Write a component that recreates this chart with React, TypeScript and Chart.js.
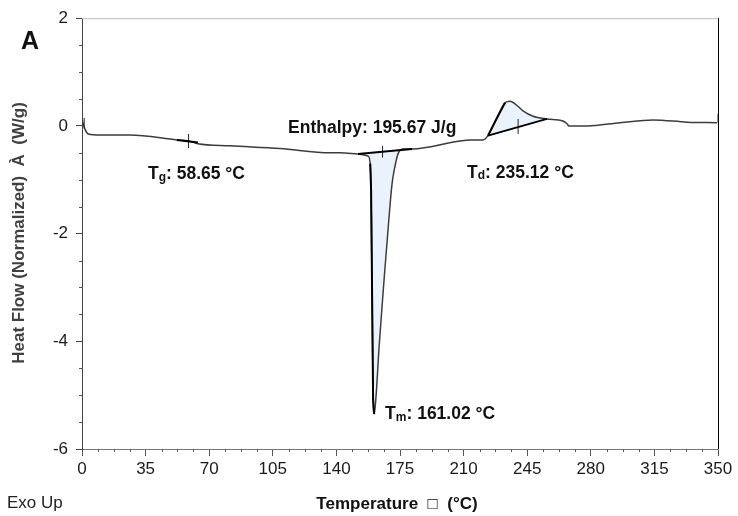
import React, { useEffect, useRef } from "react";
import { Chart, registerables } from "chart.js";
Chart.register(...registerables);

// ---- data ----
const curveTemp = [0, 1.5, 3.5, 10, 26.4, 52.3, 58.9, 63.8, 81.5, 109, 136.6, 142, 151.9, 157.4, 158.6, 159.1, 160.2, 160.8, 161.8, 163.5, 166.2, 168.6, 170.6, 172.3, 173.9, 176.7, 181.6, 208, 213.5, 220.7, 223.4, 228.4, 232.8, 235.6, 238.3, 242.7, 248.2, 255.9, 264.7, 266.9, 268, 277.9, 296.1, 314.3, 333, 349.5];
const curveHeatFlow = [0.12, -0.05, -0.15, -0.17, -0.17, -0.26, -0.28, -0.33, -0.37, -0.42, -0.5, -0.5, -0.52, -0.56, -0.7, -1.2, -5.08, -5.35, -5.03, -4.1, -2.87, -1.85, -1.08, -0.74, -0.52, -0.43, -0.43, -0.28, -0.26, -0.26, -0.18, 0.15, 0.43, 0.46, 0.41, 0.28, 0.18, 0.13, 0.09, 0.04, 0.0, 0.0, 0.06, 0.11, 0.07, 0.06];

// melting peak integration limits & baseline
const meltBaseTemp = [151.9, 181.6];
const meltBaseHF = [-0.52, -0.43];
// decomposition (exo) integration limits & baseline
const exoBaseTemp = [223.4, 255.9];
const exoBaseHF = [-0.18, 0.13];

// event marker ticks [temp, hfLow, hfHigh]
const markerTemp = [1.2, 58.65, 165.4, 240, 350];
const markerLow = [-0.05, -0.41, -0.59, -0.15, 0.06];
const markerHigh = [0.15, -0.15, -0.37, 0.13, 0.22];

// Tg tangent segment
const tgTanTemp = [52.3, 63.8];
const tgTanHF = [-0.26, -0.31];

const xTickStep = 35;
const yTickStep = 2;
const xMinorStep = 8.75;
const yMinorStep = 0.5;

// annotation labels anchored in data coordinates
const annLabels = [
  { main: "T", sub: "g", rest: ": 58.65 °C", t: 36.3, hf: -0.9 },
  { main: "T", sub: "d", rest: ": 235.12 °C", t: 211.9, hf: -0.87 },
  { main: "T", sub: "m", rest: ": 161.02 °C", t: 166.8, hf: -5.36 },
  { main: "Enthalpy: 195.67 J/g", sub: "", rest: "", t: 113.4, hf: -0.04 },
];

function pts(xs: number[], ys: number[]) {
  return xs.map((x, i) => ({ x, y: ys[i] }));
}

function segmentPoints(tA: number, tB: number) {
  const out: { x: number; y: number }[] = [];
  curveTemp.forEach((t, i) => {
    if (t >= tA && t <= tB) out.push({ x: t, y: curveHeatFlow[i] });
  });
  return out;
}

export default function App() {
  const ref = useRef<HTMLCanvasElement>(null);
  useEffect(() => {
    if (!ref.current) return;
    const FONT = "'Liberation Sans', Arial, sans-serif";

    const meltFill = [
      ...segmentPoints(meltBaseTemp[0], meltBaseTemp[1]),
      { x: meltBaseTemp[1], y: meltBaseHF[1] },
      { x: meltBaseTemp[0], y: meltBaseHF[0] },
    ];
    const exoFill = [
      ...segmentPoints(exoBaseTemp[0], exoBaseTemp[1]),
      { x: exoBaseTemp[1], y: exoBaseHF[1] },
      { x: exoBaseTemp[0], y: exoBaseHF[0] },
    ];

    const blackSegs: any[] = [];
    blackSegs.push(...pts(meltBaseTemp, meltBaseHF), { x: 200, y: null });
    blackSegs.push(...pts(exoBaseTemp, exoBaseHF), { x: 260, y: null });
    blackSegs.push(...segmentPoints(158.6, 160.8), { x: 161, y: null });
    blackSegs.push(...segmentPoints(223.4, 232.8), { x: 233, y: null });
    blackSegs.push(...pts(tgTanTemp, tgTanHF), { x: 64, y: null });

    const markerSegs: any[] = [];
    markerTemp.forEach((t, i) => {
      markerSegs.push({ x: t, y: markerLow[i] }, { x: t, y: markerHigh[i] }, { x: t, y: null });
    });

    const plugin = {
      id: "decor",
      afterDraw(chart: any) {
        const { ctx, chartArea: ca, scales } = chart;
        const xs = scales.x, ys = scales.y;
        ctx.save();
        ctx.strokeStyle = "#bdbdbd";
        ctx.lineWidth = 1;
        ctx.beginPath();
        ctx.moveTo(ca.left, ca.top + 0.5);
        ctx.lineTo(ca.right, ca.top + 0.5);
        ctx.stroke();
        ctx.strokeStyle = "#000";
        ctx.beginPath();
        ctx.moveTo(ca.right + 0.5, ca.top);
        ctx.lineTo(ca.right + 0.5, ca.bottom);
        ctx.stroke();
        ctx.strokeStyle = "#555";
        for (let v = 0; v <= 350 + 1e-6; v += xMinorStep) {
          if (Math.abs(v / xTickStep - Math.round(v / xTickStep)) < 1e-6) continue;
          const px = Math.round(xs.getPixelForValue(v)) + 0.5;
          ctx.beginPath();
          ctx.moveTo(px, ca.bottom);
          ctx.lineTo(px, ca.bottom + 3);
          ctx.stroke();
        }
        for (let v = -6; v <= 2 + 1e-6; v += yMinorStep) {
          if (Math.abs(v / yTickStep - Math.round(v / yTickStep)) < 1e-6) continue;
          const py = Math.round(ys.getPixelForValue(v)) + 0.5;
          ctx.beginPath();
          ctx.moveTo(ca.left, py);
          ctx.lineTo(ca.left - 3, py);
          ctx.stroke();
        }
        ctx.fillStyle = "#111";
        ctx.textBaseline = "middle";
        ctx.textAlign = "left";
        annLabels.forEach((a) => {
          let px = xs.getPixelForValue(a.t);
          const py = ys.getPixelForValue(a.hf);
          ctx.font = `bold 17.5px ${FONT}`;
          ctx.fillText(a.main, px, py);
          px += ctx.measureText(a.main).width;
          if (a.sub) {
            ctx.font = `bold 12px ${FONT}`;
            ctx.fillText(a.sub, px, py + 3);
            px += ctx.measureText(a.sub).width;
            ctx.font = `bold 17.5px ${FONT}`;
            ctx.fillText(a.rest, px, py);
          }
        });
        ctx.font = `bold 25px ${FONT}`;
        ctx.fillText("A", 21, 42);
        ctx.font = `17px ${FONT}`;
        ctx.fillStyle = "#222";
        ctx.fillText("Exo Up", 7, 503);
        ctx.font = `bold 17px ${FONT}`;
        ctx.fillStyle = "#111";
        ctx.textAlign = "center";
        ctx.fillText("Temperature  \u25A1  (°C)", 397, 504);
        ctx.translate(19, 233);
        ctx.rotate(-Math.PI / 2);
        ctx.fillStyle = "#404040";
        ctx.font = `bold 17px ${FONT}`;
        ctx.fillText("Heat Flow (Normalized)  À  (W/g)", 0, 0);
        ctx.restore();
      },
    };

    const chart = new Chart(ref.current, {
      type: "line",
      data: {
        datasets: [
          { data: meltFill, fill: "shape", backgroundColor: "#eaf3fc", borderWidth: 0, pointRadius: 0, order: 10 } as any,
          { data: exoFill, fill: "shape", backgroundColor: "#eaf3fc", borderWidth: 0, pointRadius: 0, order: 10 } as any,
          {
            data: pts(curveTemp, curveHeatFlow),
            borderColor: "#3c3c3c",
            borderWidth: 1.5,
            pointRadius: 0,
            fill: false,
            cubicInterpolationMode: "monotone",
            order: 5,
          } as any,
          { data: blackSegs, borderColor: "#000", borderWidth: 2, pointRadius: 0, fill: false, spanGaps: false, order: 1 } as any,
          { data: markerSegs, borderColor: "#222", borderWidth: 1, pointRadius: 0, fill: false, spanGaps: false, order: 1 } as any,
        ],
      },
      options: {
        responsive: false,
        maintainAspectRatio: false,
        devicePixelRatio: 1,
        animation: false,
        layout: { padding: { top: 17, right: 20, left: 0, bottom: 0 } },
        plugins: { legend: { display: false }, tooltip: { enabled: false } },
        scales: {
          x: {
            type: "linear",
            min: 0,
            max: 350,
            afterFit: (s: any) => { s.height = 67; },
            ticks: { stepSize: xTickStep, color: "#1a1a1a", font: { family: FONT, size: 17 }, padding: 3, maxRotation: 0 },
            grid: { display: true, drawOnChartArea: false, drawTicks: true, tickLength: 7, color: "#555" },
            border: { display: true, color: "#777", width: 1 },
          },
          y: {
            type: "linear",
            min: -6,
            max: 2,
            afterFit: (s: any) => { s.width = 82; },
            ticks: { stepSize: yTickStep, color: "#1a1a1a", font: { family: FONT, size: 17 }, padding: 8 },
            grid: { display: true, drawOnChartArea: false, drawTicks: true, tickLength: 6, color: "#444" },
            border: { display: true, color: "#444", width: 1 },
          },
        },
      },
      plugins: [plugin],
    });
    return () => chart.destroy();
  }, []);
  return (
    <div style={{ position: "absolute", left: 0, top: 0, width: 738, height: 516, background: "#fff" }}>
      <canvas ref={ref} width={738} height={516} style={{ display: "block", width: 738, height: 516 }} />
    </div>
  );
}
